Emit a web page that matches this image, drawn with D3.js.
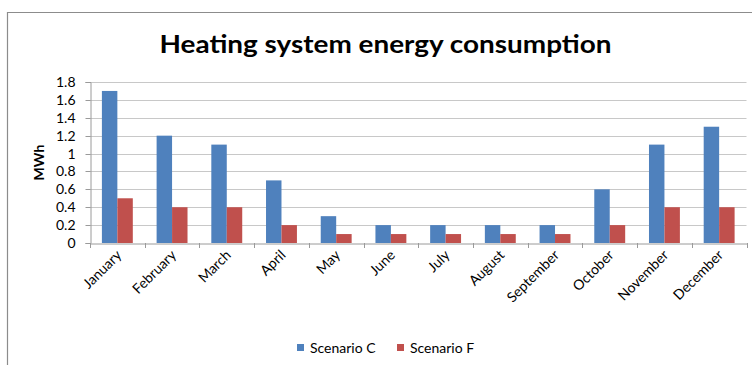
<!DOCTYPE html>
<html>
<head>
<meta charset="utf-8">
<script src="https://cdn.jsdelivr.net/npm/d3@7"></script>
<style>
  html, body { margin: 0; padding: 0; background: #fff; }
  svg { display: block; font-family: Lato, "Open Sans", sans-serif; }
</style>
</head>
<body>
<svg id="chart" width="752" height="365"></svg>
<script>
// Monthly heating energy use (MWh) for two scenarios
const months = ["January", "February", "March", "April", "May", "June",
  "July", "August", "September", "October", "November", "December"];
const scenarioC = [1.7, 1.2, 1.1, 0.7, 0.3, 0.2, 0.2, 0.2, 0.2, 0.6, 1.1, 1.3];
const scenarioF = [0.5, 0.4, 0.4, 0.2, 0.1, 0.1, 0.1, 0.1, 0.1, 0.2, 0.4, 0.4];
const seriesNames = ["Scenario C", "Scenario F"];
const seriesColors = ["#4F81BD", "#C0504D"];
const yTicks = [0, 0.2, 0.4, 0.6, 0.8, 1, 1.2, 1.4, 1.6, 1.8];

const svg = d3.select("#chart");
const W = 752, H = 365;
const plot = { left: 90, right: 746.5, top: 82, bottom: 243 };

// chart frame (left and top edges visible)
svg.append("path")
  .attr("d", `M7.5,${H} V12.5 H${W}`)
  .attr("fill", "none").attr("stroke", "#8c8c8c").attr("stroke-width", 1.2);

// title
svg.append("text")
  .attr("x", 385.5).attr("y", 53)
  .attr("text-anchor", "middle")
  .attr("font-weight", "bold").attr("font-size", 25)
  .attr("textLength", 452).attr("lengthAdjust", "spacingAndGlyphs")
  .attr("fill", "#000")
  .text("Heating system energy consumption");

const x0 = d3.scaleBand().domain(months).range([plot.left, plot.right]).paddingInner(0).paddingOuter(0);
const x1 = d3.scaleBand().domain(seriesNames).range([0, x0.bandwidth()]).paddingInner(0).paddingOuter(0.77);
const y = d3.scaleLinear().domain([0, 1.8]).range([plot.bottom, plot.top]);

// gridlines
svg.append("g").selectAll("line").data(yTicks.filter(d => d > 0)).join("line")
  .attr("x1", plot.left).attr("x2", plot.right)
  .attr("y1", d => Math.round(y(d)) + 0.5).attr("y2", d => Math.round(y(d)) + 0.5)
  .attr("stroke", "#c8c8c8").attr("stroke-width", 1);

// y axis
const yAxis = svg.append("g")
  .attr("transform", `translate(${plot.left + 0.5},0)`)
  .call(d3.axisLeft(y).tickValues(yTicks).tickFormat(d3.format("")).tickSize(5).tickPadding(10));
yAxis.select(".domain").attr("stroke", "#9a9a9a");
yAxis.selectAll(".tick line").attr("stroke", "#9a9a9a");
yAxis.selectAll(".tick").attr("transform", d => `translate(0,${Math.round(y(d)) + 0.5})`);
yAxis.selectAll("text").attr("font-size", 14).attr("fill", "#000")
  .attr("font-family", "Lato, sans-serif");

// y axis title
svg.append("text")
  .attr("transform", `translate(44,${(plot.top + plot.bottom) / 2}) rotate(-90)`)
  .attr("text-anchor", "middle")
  .attr("font-weight", "bold").attr("font-size", 14)
  .text("MWh");

// bars
const groups = svg.append("g").selectAll("g").data(months).join("g")
  .attr("transform", d => `translate(${x0(d)},0)`);
groups.selectAll("rect")
  .data((m, i) => [scenarioC[i], scenarioF[i]].map((v, s) => ({ v, s })))
  .join("rect")
  .attr("x", d => x1(seriesNames[d.s]))
  .attr("width", x1.bandwidth())
  .attr("y", d => y(d.v))
  .attr("height", d => y(0) - y(d.v))
  .attr("fill", d => seriesColors[d.s]);

// x axis
const xAxis = svg.append("g")
  .attr("transform", `translate(0,${plot.bottom + 0.5})`)
  .call(d3.axisBottom(x0).tickSize(0).tickFormat(""));
xAxis.select(".domain").attr("stroke", "#9a9a9a");
// category boundary ticks
svg.append("g").selectAll("line").data(d3.range(months.length + 1)).join("line")
  .attr("x1", i => Math.round(plot.left + i * x0.step()) + 0.5)
  .attr("x2", i => Math.round(plot.left + i * x0.step()) + 0.5)
  .attr("y1", plot.bottom).attr("y2", plot.bottom + 5)
  .attr("stroke", "#9a9a9a");

// rotated month labels
svg.append("g").selectAll("text").data(months).join("text")
  .attr("transform", d => `translate(${x0(d) + x0.bandwidth() / 2 + 5},${plot.bottom + 13}) rotate(-45)`)
  .attr("text-anchor", "end")
  .attr("font-size", 14)
  .attr("fill", "#000")
  .text(d => d);

// legend
const legend = svg.append("g").attr("transform", "translate(297,348)");
const legendX = [0, 100];
seriesNames.forEach((name, i) => {
  const g = legend.append("g").attr("transform", `translate(${legendX[i]},0)`);
  g.append("rect").attr("x", 0).attr("y", -4).attr("width", 7).attr("height", 7)
    .attr("fill", seriesColors[i]);
  g.append("text").attr("x", 13).attr("y", 0).attr("dy", "0.35em")
    .attr("font-size", 14).attr("fill", "#000").text(name);
});
</script>
</body>
</html>
